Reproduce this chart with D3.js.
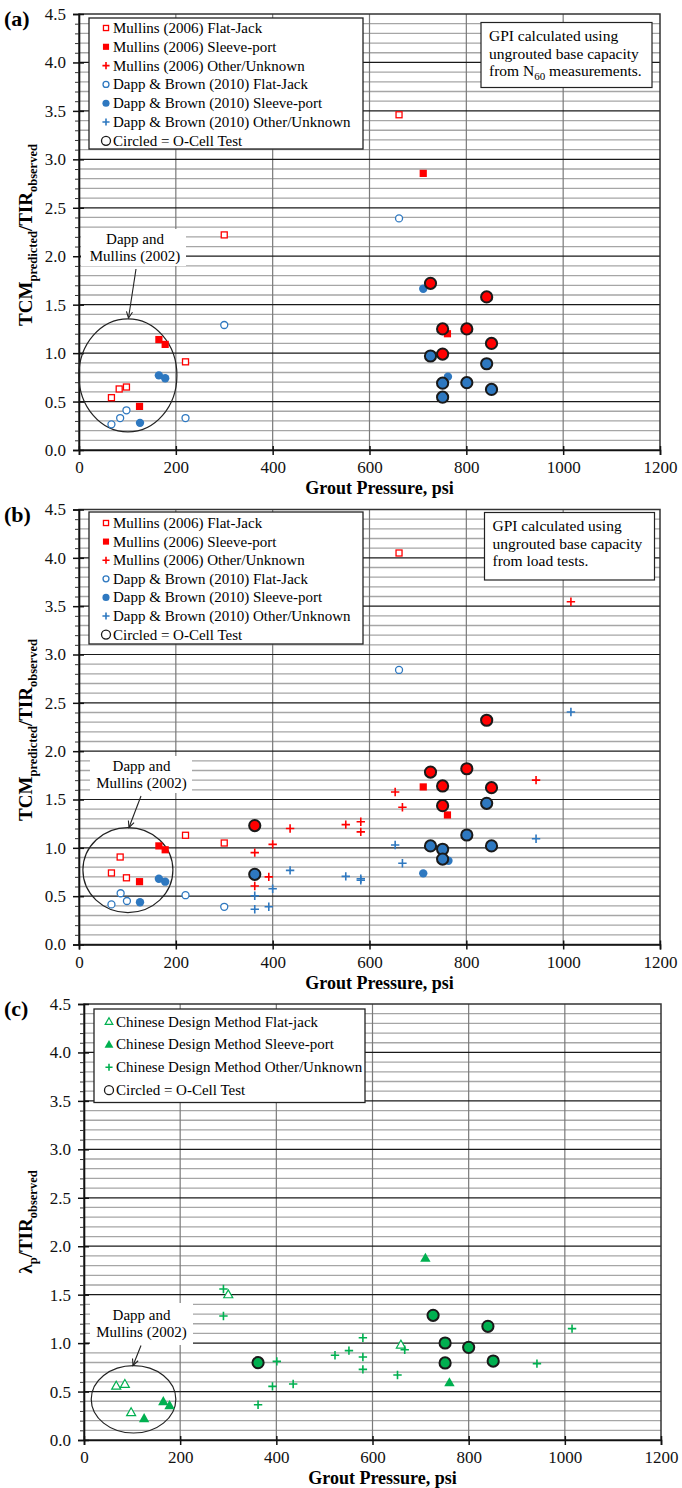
<!DOCTYPE html>
<html><head><meta charset="utf-8">
<script src="https://cdn.jsdelivr.net/npm/d3@7/dist/d3.min.js"></script>
<style>
body{margin:0;background:#fff;}
svg text{font-family:"Liberation Serif","Times New Roman",serif;}
</style></head>
<body><svg id="chart" width="682" height="1488"></svg>
<script>
// ---------- DATA ----------
const xTickValues = [0, 200, 400, 600, 800, 1000, 1200];
const yTickValues = [0, 0.5, 1.0, 1.5, 2.0, 2.5, 3.0, 3.5, 4.0, 4.5];
const xTitle = "Grout Pressure, psi";

// Panel (a): [grout pressure (psi), ratio]
const aMullinsFlatJack = [[661,3.46],[300,2.22],[220,0.91],[83,0.63],[98,0.65],[67,0.54]];
const aMullinsSleeve   = [[711,2.855],[165,1.14],[178,1.09],[125,0.45],[761,1.20]];
const aDappFlatJack    = [[661,2.39],[300,1.29],[220,0.33],[98,0.41],[85,0.33],[67,0.265]];
const aDappSleeve      = [[711,1.665],[165,0.77],[178,0.74],[126,0.28],[762,0.757]];
const aMullinsOcell    = [[726,1.72],[842,1.58],[751,1.25],[801,1.25],[852,1.10],[751,0.99]];
const aDappOcell       = [[726,0.97],[842,0.89],[751,0.69],[801,0.695],[852,0.625],[751,0.545]];

// Panel (b)
const bMullinsFlatJack = [[661,4.05],[220,1.13],[300,1.05],[85,0.905],[67,0.74],[98,0.69]];
const bMullinsSleeve   = [[165,1.02],[178,0.98],[125,0.65],[711,1.63],[761,1.34]];
const bMullinsOther    = [[363,0.95],[363,0.605],[392,0.70],[400,1.036],[436,1.20],[551,1.24],[582,1.27],[582,1.165],[653,1.578],[668,1.42],[944,1.70],[1016,3.546]];
const bDappFlatJack    = [[220,0.51],[300,0.39],[86,0.53],[99,0.45],[67,0.415],[661,2.84]];
const bDappSleeve      = [[165,0.68],[178,0.65],[126,0.437],[711,0.736],[763,0.867]];
const bDappOther       = [[363,0.505],[363,0.364],[392,0.391],[400,0.577],[436,0.767],[551,0.705],[582,0.68],[582,0.664],[653,1.03],[668,0.84],[944,1.094],[1016,2.405]];
const bMullinsOcell    = [[363,1.23],[842,2.32],[726,1.784],[801,1.818],[751,1.64],[852,1.622],[751,1.436]];
const bDappOcell       = [[363,0.726],[842,1.46],[801,1.133],[726,1.02],[852,1.02],[751,0.985],[751,0.884]];

// Panel (c)
const cFlatJack = [[67,0.56],[85,0.578],[98,0.286],[300,1.503],[659,0.984]];
const cSleeve   = [[125,0.224],[165,0.40],[178,0.358],[710,1.88],[760,0.595]];
const cOther    = [[290,1.558],[290,1.28],[362,0.818],[362,0.364],[392,0.553],[401,0.812],[435,0.578],[522,0.874],[551,0.922],[580,1.056],[580,0.857],[580,0.729],[667,0.932],[652,0.671],[942,0.788],[1015,1.149]];
const cOcell    = [[362,0.798],[726,1.287],[840,1.173],[751,1.001],[800,0.956],[851,0.815],[751,0.795]];

const legendAB_labels = ["Mullins (2006) Flat-Jack","Mullins (2006) Sleeve-port","Mullins (2006) Other/Unknown","Dapp & Brown (2010) Flat-Jack","Dapp & Brown (2010) Sleeve-port","Dapp & Brown (2010) Other/Unknown","Circled = O-Cell Test"];
const legendC_labels = ["Chinese Design Method Flat-jack","Chinese Design Method Sleeve-port","Chinese Design Method Other/Unknown","Circled = O-Cell Test"];

// ---------- STYLE ----------
const RED = "#ff0000", BLUE = "#2e78c0", GREEN = "#00b050";
const svg = d3.select("#chart");
const FONT = 15;

function marker(g, type, color, x, y, big) {
  const s = big ? 1 : 0.85;
  if (type === "osq") {
    g.append("rect").attr("x", x-3*s).attr("y", y-3*s).attr("width", 6*s).attr("height", 6*s)
      .attr("fill", "#fff").attr("stroke", color).attr("stroke-width", 1.3);
  } else if (type === "fsq") {
    g.append("rect").attr("x", x-3.6*s).attr("y", y-3.6*s).attr("width", 7.2*s).attr("height", 7.2*s).attr("fill", color);
  } else if (type === "plus") {
    const h = 4.2*s;
    g.append("path").attr("d", `M${x-h},${y}H${x+h}M${x},${y-h}V${y+h}`).attr("stroke", color).attr("stroke-width", 1.6);
  } else if (type === "ocirc") {
    g.append("circle").attr("cx", x).attr("cy", y).attr("r", 3.5*s).attr("fill", "#fff").attr("stroke", color).attr("stroke-width", 1.3);
  } else if (type === "fcirc") {
    g.append("circle").attr("cx", x).attr("cy", y).attr("r", 4.2*s).attr("fill", color);
  } else if (type === "ocell") {
    g.append("circle").attr("cx", x).attr("cy", y).attr("r", 5.6).attr("fill", color).attr("stroke", "#1a1a1a").attr("stroke-width", 2);
  } else if (type === "ring") {
    g.append("circle").attr("cx", x).attr("cy", y).attr("r", 4.5).attr("fill", "none").attr("stroke", "#1a1a1a").attr("stroke-width", 1.3);
  } else if (type === "otri") {
    const h = 4.5*s;
    g.append("path").attr("d", `M${x},${y-h}L${x+h},${y+h*0.75}L${x-h},${y+h*0.75}Z`).attr("fill", "#fff").attr("stroke", color).attr("stroke-width", 1.2);
  } else if (type === "ftri") {
    const h = 5.2*s;
    g.append("path").attr("d", `M${x},${y-h}L${x+h},${y+h*0.75}L${x-h},${y+h*0.75}Z`).attr("fill", color);
  }
}

function panel(cfg) {
  const g = svg.append("g");
  const x = d3.scaleLinear().domain([0, 1200]).range([cfg.left, cfg.right]);
  const y = d3.scaleLinear().domain([0, 4.5]).range([cfg.bottom, cfg.top]);

  // minor horizontal grid (0.1)
  const minor = d3.range(1, 45).filter(i => i % 5 !== 0).map(i => i / 10);
  g.append("g").selectAll("line").data(minor).join("line")
    .attr("x1", cfg.left).attr("x2", cfg.right).attr("y1", d => y(d)).attr("y2", d => y(d))
    .attr("stroke", "#a6a6a6").attr("stroke-width", 1.3);
  // vertical grid
  g.append("g").selectAll("line").data(xTickValues.slice(1, -1)).join("line")
    .attr("x1", d => x(d)).attr("x2", d => x(d)).attr("y1", cfg.top).attr("y2", cfg.bottom)
    .attr("stroke", "#7a7a7a").attr("stroke-width", 1.2);
  // major horizontal grid
  g.append("g").selectAll("line").data(yTickValues.slice(1, -1)).join("line")
    .attr("x1", cfg.left).attr("x2", cfg.right).attr("y1", d => y(d)).attr("y2", d => y(d))
    .attr("stroke", "#1a1a1a").attr("stroke-width", 1.2);
  // frame
  g.append("rect").attr("x", cfg.left).attr("y", cfg.top).attr("width", cfg.right - cfg.left).attr("height", cfg.bottom - cfg.top)
    .attr("fill", "none").attr("stroke", "#333").attr("stroke-width", 1.5);

  // axes
  const yAxis = d3.axisLeft(y).tickValues(yTickValues).tickFormat(d3.format(".1f")).tickSize(6).tickPadding(7);
  const ya = g.append("g").attr("transform", `translate(${cfg.left},0)`).call(yAxis);
  ya.select(".domain").attr("stroke", "#111").attr("stroke-width", 1.6);
  ya.selectAll(".tick line").attr("stroke", "#111").attr("stroke-width", 1.5).attr("x2", -6).attr("x1", 5);
  ya.selectAll("text").attr("font-size", 17).attr("font-family", "Liberation Serif").attr("fill", "#111");
  const yMinor = d3.axisLeft(y).tickValues(minor).tickSize(4).tickFormat("");
  const ym = g.append("g").attr("transform", `translate(${cfg.left},0)`).call(yMinor);
  ym.select(".domain").remove();
  ym.selectAll(".tick line").attr("stroke", "#333").attr("stroke-width", 1);

  const xAxis = d3.axisBottom(x).tickValues(xTickValues).tickFormat(d3.format("d")).tickSize(5).tickPadding(6);
  const xa = g.append("g").attr("transform", `translate(0,${cfg.bottom})`).call(xAxis);
  xa.select(".domain").attr("stroke", "#111").attr("stroke-width", 1.6);
  xa.selectAll(".tick line").attr("stroke", "#111").attr("stroke-width", 1.5).attr("y1", -4);
  xa.selectAll("text").attr("font-size", 17).attr("font-family", "Liberation Serif").attr("fill", "#111");

  // x title
  g.append("text").attr("x", (cfg.left + cfg.right) / 2 + 10).attr("y", cfg.bottom + 44)
    .attr("text-anchor", "middle").attr("font-size", 18).attr("font-weight", "bold").text(xTitle);

  // y title
  const yt = g.append("text").attr("transform", `translate(${cfg.ytitleX},${cfg.ytitleY}) rotate(-90)`)
    .attr("text-anchor", "middle").attr("font-size", 19).attr("font-weight", "bold");
  cfg.ytitle.forEach(p => {
    if (p.sub) yt.append("tspan").attr("font-size", 12.5).attr("dy", 5).text(p.t);
    else yt.append("tspan").attr("dy", p.after ? -5 : 0).text(p.t);
  });

  // panel letter
  g.append("text").attr("x", 4).attr("y", cfg.top + 12).attr("font-size", 22).attr("font-weight", "bold").text(cfg.letter);

  // Dapp and Mullins annotation
  const an = cfg.ann;
  g.append("rect").attr("x", an.bx).attr("y", an.by).attr("width", an.bw).attr("height", an.bh).attr("fill", "#fff");
  g.append("text").attr("x", an.tx).attr("y", an.ty).attr("text-anchor", "middle").attr("font-size", 15).text("Dapp and");
  g.append("text").attr("x", an.tx).attr("y", an.ty + 17).attr("text-anchor", "middle").attr("font-size", 15).text("Mullins (2002)");
  g.append("ellipse").attr("cx", x(an.ecx)).attr("cy", y(an.ecy)).attr("rx", an.rx).attr("ry", an.ry)
    .attr("fill", "none").attr("stroke", "#222").attr("stroke-width", 1.2);
  const ax1 = an.a1, ax2 = an.a2;
  g.append("line").attr("x1", ax1[0]).attr("y1", ax1[1]).attr("x2", ax2[0]).attr("y2", ax2[1]).attr("stroke", "#222").attr("stroke-width", 1.1);
  const ang = Math.atan2(ax2[1] - ax1[1], ax2[0] - ax1[0]);
  const L = 7, w = 0.45;
  g.append("path").attr("d", `M${ax2[0] - L * Math.cos(ang - w)},${ax2[1] - L * Math.sin(ang - w)}L${ax2[0]},${ax2[1]}L${ax2[0] - L * Math.cos(ang + w)},${ax2[1] - L * Math.sin(ang + w)}`)
    .attr("fill", "none").attr("stroke", "#222").attr("stroke-width", 1.1);

  // data
  const dg = g.append("g");
  cfg.series.forEach(s => s.data.forEach(d => marker(dg, s.type, s.color, x(d[0]), y(d[1]), true)));

  // legend
  const lg = cfg.legend;
  g.append("rect").attr("x", lg.x).attr("y", lg.y).attr("width", lg.w).attr("height", lg.h)
    .attr("fill", "#fff").attr("stroke", "#222").attr("stroke-width", 1.3);
  lg.items.forEach((it, i) => {
    const cy = lg.y + lg.first + i * lg.step;
    marker(g, it.type, it.color, lg.x + lg.sym, cy, false);
    g.append("text").attr("x", lg.x + lg.sym + 7).attr("y", cy + 5).attr("font-size", FONT).text(it.label);
  });

  // GPI note box
  if (cfg.note) {
    const n = cfg.note;
    g.append("rect").attr("x", n.x).attr("y", n.y).attr("width", n.w).attr("height", n.h)
      .attr("fill", "#fff").attr("stroke", "#222").attr("stroke-width", 1.2);
    n.lines.forEach((ln, i) => {
      const t = g.append("text").attr("x", n.x + 8).attr("y", n.y + 18.5 + i * 17.6).attr("font-size", 15.5);
      if (Array.isArray(ln)) {
        t.append("tspan").text(ln[0]);
        t.append("tspan").attr("font-size", 11).attr("dy", 4).text(ln[1]);
        t.append("tspan").attr("dy", -4).text(ln[2]);
      } else t.text(ln);
    });
  }
}

const tcmTitle = [{t: "TCM"}, {t: "predicted", sub: true}, {t: "/TIR", after: true}, {t: "observed", sub: true}];

panel({
  letter: "(a)", left: 79, right: 660, top: 14, bottom: 450, ytitleX: 32, ytitleY: 235, ytitle: tcmTitle,
  ann: {bx: 81, by: 229, bw: 105, bh: 37, tx: 135, ty: 244, ecx: 101, ecy: 0.77, rx: 49, ry: 56.5, a1: [136, 269], a2: [128.5, 318]},
  series: [
    {type: "osq", color: RED, data: aMullinsFlatJack},
    {type: "ocirc", color: BLUE, data: aDappFlatJack},
    {type: "fsq", color: RED, data: aMullinsSleeve},
    {type: "fcirc", color: BLUE, data: aDappSleeve},
    {type: "ocell", color: RED, data: aMullinsOcell},
    {type: "ocell", color: BLUE, data: aDappOcell}
  ],
  legend: {x: 89, y: 18, w: 274, h: 131, first: 10, step: 18.8, sym: 17, items: [
    {type: "osq", color: RED, label: legendAB_labels[0]},
    {type: "fsq", color: RED, label: legendAB_labels[1]},
    {type: "plus", color: RED, label: legendAB_labels[2]},
    {type: "ocirc", color: BLUE, label: legendAB_labels[3]},
    {type: "fcirc", color: BLUE, label: legendAB_labels[4]},
    {type: "plus", color: BLUE, label: legendAB_labels[5]},
    {type: "ring", color: "#000", label: legendAB_labels[6]}
  ]},
  note: {x: 481, y: 22.5, w: 171, h: 65, lines: ["GPI calculated using", "ungrouted base capacity", ["from N", "60", " measurements."]]}
});

panel({
  letter: "(b)", left: 79, right: 660, top: 509.5, bottom: 944.5, ytitleX: 32, ytitleY: 730, ytitle: tcmTitle,
  ann: {bx: 90, by: 756, bw: 102, bh: 37, tx: 141.5, ty: 771, ecx: 101, ecy: 0.77, rx: 45, ry: 42.5, a1: [141, 796], a2: [129, 827.5]},
  series: [
    {type: "osq", color: RED, data: bMullinsFlatJack},
    {type: "ocirc", color: BLUE, data: bDappFlatJack},
    {type: "fsq", color: RED, data: bMullinsSleeve},
    {type: "fcirc", color: BLUE, data: bDappSleeve},
    {type: "plus", color: RED, data: bMullinsOther},
    {type: "plus", color: BLUE, data: bDappOther},
    {type: "ocell", color: RED, data: bMullinsOcell},
    {type: "ocell", color: BLUE, data: bDappOcell}
  ],
  legend: {x: 89, y: 512, w: 274, h: 132, first: 11, step: 18.6, sym: 17, items: [
    {type: "osq", color: RED, label: legendAB_labels[0]},
    {type: "fsq", color: RED, label: legendAB_labels[1]},
    {type: "plus", color: RED, label: legendAB_labels[2]},
    {type: "ocirc", color: BLUE, label: legendAB_labels[3]},
    {type: "fcirc", color: BLUE, label: legendAB_labels[4]},
    {type: "plus", color: BLUE, label: legendAB_labels[5]},
    {type: "ring", color: "#000", label: legendAB_labels[6]}
  ]},
  note: {x: 484.5, y: 512.5, w: 170, h: 67.5, lines: ["GPI calculated using", "ungrouted base capacity", "from load tests."]}
});

panel({
  letter: "(c)", left: 84, right: 661, top: 1004, bottom: 1440, ytitleX: 32, ytitleY: 1222,
  ytitle: [{t: "λ"}, {t: "p", sub: true}, {t: "/TIR", after: true}, {t: "observed", sub: true}],
  ann: {bx: 90, by: 1303, bw: 103, bh: 42, tx: 141.5, ty: 1320, ecx: 103, ecy: 0.42, rx: 42.3, ry: 33.7, a1: [141, 1345.5], a2: [133, 1365.5]},
  series: [
    {type: "otri", color: GREEN, data: cFlatJack},
    {type: "ftri", color: GREEN, data: cSleeve},
    {type: "plus", color: GREEN, data: cOther},
    {type: "ocell", color: GREEN, data: cOcell}
  ],
  legend: {x: 94, y: 1009, w: 271, h: 93.5, first: 12.5, step: 22.9, sym: 15, items: [
    {type: "otri", color: GREEN, label: legendC_labels[0]},
    {type: "ftri", color: GREEN, label: legendC_labels[1]},
    {type: "plus", color: GREEN, label: legendC_labels[2]},
    {type: "ring", color: "#000", label: legendC_labels[3]}
  ]}
});
</script></body></html>
